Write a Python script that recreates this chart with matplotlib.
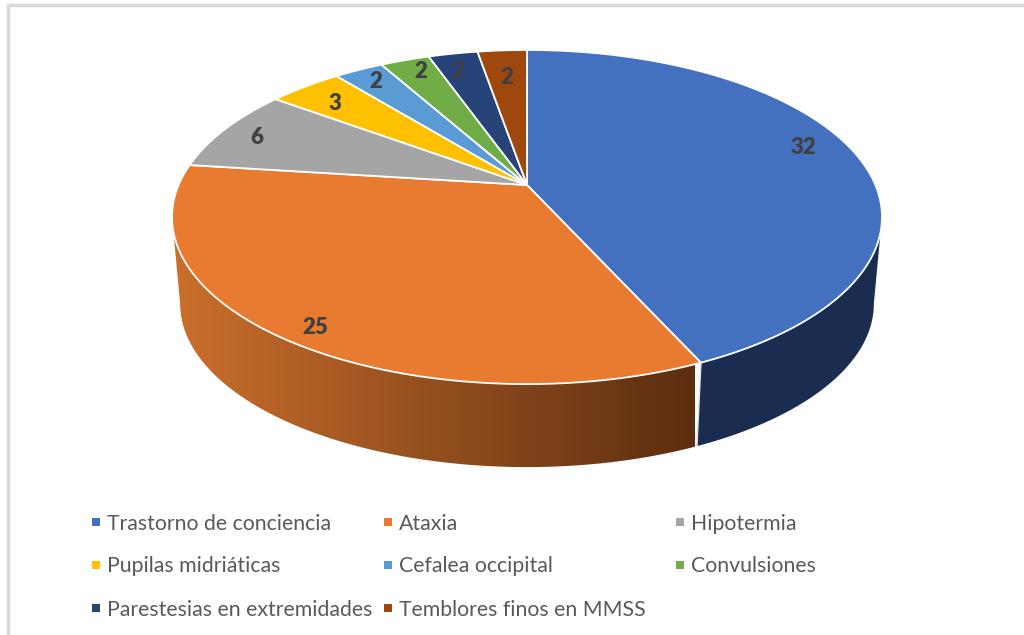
import numpy as np
import matplotlib
matplotlib.use('Agg')
import matplotlib.pyplot as plt
from matplotlib.colors import LinearSegmentedColormap

categories = ['Trastorno de conciencia', 'Ataxia', 'Hipotermia', 'Pupilas midriáticas',
              'Cefalea occipital', 'Convulsiones', 'Parestesias en extremidades',
              'Temblores finos en MMSS']
values = [32, 25, 6, 3, 2, 2, 2, 2]
colors = ['#4371C0', '#E97B30', '#A5A5A5', '#FFC000', '#5B9BD5', '#70AD47', '#264478', '#9E480E']

# where excel put the data labels, in pixels
label_pos = [(803, 147), (315, 327), (257, 138), (335, 103), (376, 82), (421, 72), (458, 71), (507, 77)]
legend_cols = [(95.5, 107), (388, 399), (680, 691)]
legend_rows = [522, 565, 608]

plt.rcParams['font.family'] = ['Lato', 'DejaVu Sans']

# perspective of the pie: apex is above the middle of the ellipse
k = 0.1917


def project(theta, r=1.0, y0=185.0, s=1.0):
    # theta clockwise from 12 o'clock
    px = r * np.sin(theta)
    py = r * np.cos(theta)
    d = 1 + k * py
    return 527 + s * 348.4 * px / d, y0 - s * 160.9 * py / d


fig = plt.figure(figsize=(10.24, 6.35), dpi=100)
ax = fig.add_axes([0, 0, 1, 1])
ax.set_xlim(0, 1024)
ax.set_ylim(635, 0)
ax.axis('off')

# frame of the pasted chart
ax.plot([8, 8, 1024], [635, 5, 5], color='#D9D9D9', lw=2.5, zorder=1)

edges = np.cumsum([0] + values) / sum(values) * 2 * np.pi


def wall(a, b):
    # only the front part of the rim is visible
    th_r = np.arccos(-k)
    th = np.linspace(max(a, th_r), min(b, 2 * np.pi - th_r), 300)
    x1, y1 = project(th)
    x2, y2 = project(th[::-1], y0=272.6, s=0.977)
    return np.r_[x1, x2], np.r_[y1, y2]


# side wall, only the two big slices show
wx, wy = wall(edges[0], edges[1])
ax.fill(wx, wy, color='#1A2D50', lw=0, zorder=2)

wx, wy = wall(edges[1], edges[2])
poly = ax.fill(wx, wy, color='none', lw=0, zorder=2)[0]
cmap = LinearSegmentedColormap.from_list('wall', ['#5C2E10', '#CB6F2C'])
im = ax.imshow(np.linspace(0, 1, 256)[None, :], cmap=cmap, aspect='auto',
               extent=[695, 172, 470, 180], zorder=2)
im.set_clip_path(poly)
ax.set_xlim(0, 1024)
ax.set_ylim(635, 0)

# white seam between the two walls
sx1, sy1 = project(edges[1])
sx2, sy2 = project(edges[1], y0=272.6, s=0.977)
ax.plot([sx1, sx2], [sy1, sy2], color='#E8E8E8', lw=1.1, zorder=3)

# top of the pie
ax0, ay0 = project(0.0, r=0.0)
for i in range(len(values)):
    th = np.linspace(edges[i], edges[i + 1], 200)
    x, y = project(th)
    ax.fill(np.r_[ax0, x], np.r_[ay0, y], facecolor=colors[i], edgecolor='white',
            lw=1.3, joinstyle='round', zorder=4)

for v, (lx, ly) in zip(values, label_pos):
    ax.text(lx, ly, str(v), fontsize=16, fontweight='heavy', color='#404040',
            ha='center', va='center', zorder=5)

for i, name in enumerate(categories):
    mx, tx = legend_cols[i % 3]
    ly = legend_rows[i // 3]
    ax.plot([mx], [ly], 's', color=colors[i], ms=5.5, mew=0, zorder=5)
    ax.text(tx, ly + 1.5, name, fontsize=15.3, color='#595959', ha='left', va='center', zorder=5)

fig.savefig('out.png', dpi=100)
